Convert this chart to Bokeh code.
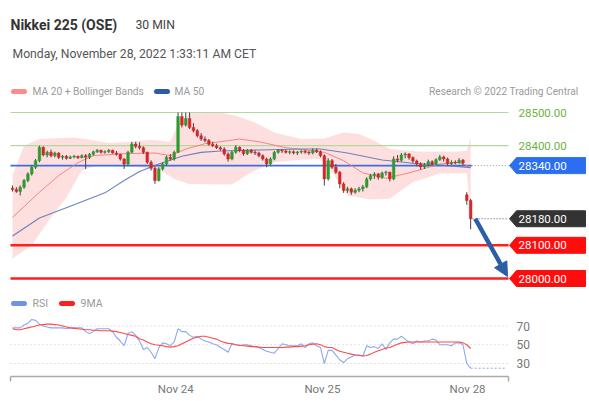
from bokeh.plotting import figure
from bokeh.models import Range1d, Label, Arrow, NormalHead
from bokeh.embed import file_html
from bokeh.resources import INLINE

# ---------------- data ----------------
opens = [28272,28268,28262,28275,28295,28315,28335,28355,28395,28372,
         28380,28370,28378,28365,28368,28362,28366,28368,28364,28370,
         28365,28374,28382,28386,28380,28382,28386,28378,28374,28360,
         28345,28380,28405,28398,28394,28380,28350,28332,28295,28330,
         28345,28365,28360,28380,28488,28462,28482,28455,28445,28430,
         28420,28416,28404,28400,28394,28390,28375,28360,28380,28395,
         28386,28376,28386,28380,28378,28370,28360,28345,28360,28380,
         28386,28384,28380,28382,28378,28381,28383,28380,28378,28386,
         28382,28370,28300,28355,28335,28320,28285,28265,28270,28260,
         28266,28270,28276,28300,28310,28315,28305,28318,28320,28300,
         28360,28356,28372,28375,28364,28354,28345,28336,28342,28352,
         28345,28358,28366,28360,28346,28350,28348,28356,28252,28235]
highs = [28280,28275,28280,28300,28320,28340,28360,28400,28398,28385,
         28388,28382,28380,28372,28372,28370,28372,28370,28374,28375,
         28378,28385,28390,28388,28386,28390,28388,28384,28376,28362,
         28385,28412,28412,28410,28398,28382,28356,28338,28335,28350,
         28370,28375,28385,28500,28500,28500,28500,28468,28450,28438,
         28428,28420,28412,28406,28398,28395,28380,28385,28402,28398,
         28390,28390,28390,28386,28382,28374,28364,28365,28384,28390,
         28390,28388,28386,28386,28384,28386,28388,28384,28392,28392,
         28386,28374,28362,28360,28345,28324,28290,28276,28274,28272,
         28276,28282,28305,28315,28320,28318,28322,28325,28322,28368,
         28372,28378,28380,28378,28368,28358,28350,28348,28358,28356,
         28362,28372,28370,28364,28356,28356,28362,28360,28260,28240]
lows = [28262,28258,28250,28270,28290,28310,28330,28350,28368,28365,
        28365,28365,28360,28358,28358,28360,28362,28360,28362,28330,
        28360,28370,28378,28376,28376,28378,28376,28370,28355,28330,
        28340,28378,28392,28388,28375,28345,28325,28285,28292,28325,
        28340,28355,28355,28378,28455,28458,28450,28440,28425,28415,
        28410,28400,28396,28390,28385,28370,28352,28356,28376,28380,
        28370,28372,28376,28372,28365,28355,28335,28340,28356,28376,
        28378,28376,28374,28374,28372,28376,28376,28372,28374,28378,
        28365,28280,28295,28330,28315,28272,28258,28258,28252,28255,
        28260,28262,28272,28295,28300,28298,28300,28310,28292,28296,
        28350,28352,28362,28358,28348,28338,28328,28330,28338,28340,
        28342,28354,28352,28340,28342,28344,28346,28342,28222,28148]
closes = [28268,28262,28275,28295,28315,28335,28355,28395,28372,28380,
          28370,28378,28365,28368,28362,28366,28368,28364,28370,28365,
          28374,28382,28386,28380,28382,28386,28378,28374,28360,28345,
          28380,28405,28398,28394,28380,28350,28332,28295,28330,28345,
          28365,28360,28380,28488,28462,28482,28455,28445,28430,28420,
          28416,28404,28400,28394,28390,28375,28360,28380,28395,28386,
          28376,28386,28380,28378,28370,28360,28345,28360,28380,28386,
          28384,28380,28382,28378,28381,28383,28380,28378,28386,28382,
          28370,28300,28355,28335,28320,28285,28265,28270,28260,28266,
          28270,28276,28300,28310,28315,28305,28318,28320,28300,28360,
          28356,28372,28375,28364,28354,28345,28336,28342,28352,28345,
          28358,28366,28360,28346,28350,28348,28356,28348,28235,28180]

ma50_x = [0, 7, 16, 24, 29, 33, 38, 44, 49, 54, 64, 75, 80, 87, 96, 104, 111, 119]
ma50_v = [28128, 28182, 28222, 28258, 28295, 28322, 28345, 28368, 28380, 28384,
          28387, 28390, 28390, 28378, 28357, 28347, 28342, 28334]
ma20_x = [0, 7, 12, 17, 21, 29, 37, 41, 45, 50, 54, 59, 64, 71, 81, 86, 91, 97, 103, 111, 116, 119]
ma20_v = [28184, 28260, 28310, 28349, 28370, 28376, 28378, 28370, 28390, 28406, 28412,
          28420, 28412, 28394, 28380, 28355, 28318, 28302, 28318, 28345, 28350, 28335]
bb_up_x = [0, 3, 7, 16, 20, 25, 31, 36, 41, 43, 46, 54, 58, 63, 68, 75, 81, 86, 90, 94,
           98, 106, 115, 118, 119]
bb_up_v = [28310, 28400, 28420, 28425, 28418, 28408, 28412, 28418, 28412, 28465, 28498,
           28500, 28490, 28470, 28440, 28420, 28422, 28440, 28435, 28415, 28390, 28382,
           28382, 28385, 28425]
bb_lo_x = [0, 5, 10, 14, 18, 22, 33, 38, 42, 46, 57, 62, 68, 75, 80, 83, 87, 93, 98, 104,
           111, 118, 119]
bb_lo_v = [28060, 28100, 28184, 28244, 28325, 28340, 28335, 28330, 28300, 28285, 28283,
           28320, 28350, 28358, 28360, 28320, 28250, 28238, 28240, 28290, 28316, 28318, 28195]

rsi = [68,68,68,71,73,77,76,72,70,69,
       68,68,68,68,67,68,68,68,68,64,
       62,64,67,67,67,67,64,58,54,49,
       62,64,60,54,45,47,42,35,47,52,
       51,49,53,67,64,64,60,58,59,56,
       54,53,51,50,47,45,42,51,50,49,
       50,50,49,48,47,45,43,42,41,46,
       51,50,49,49,49,51,47,51,52,49,
       47,30,44,44,39,34,31,35,37,39,
       39,38,49,47,48,46,51,45,52,56,
       56,59,56,53,51,54,53,54,54,56,
       55,50,50,50,49,52,52,50,30,25]
rsi_ma = [67,66,66,67,68,69,70,71,71.5,72,
          72,71.5,71,70,69,68,67.5,67,66.5,66,
          66,65.5,65.5,65,65,65,64.5,64,63,62,
          61,60,59,56.5,55,53,51,50,49.5,49,
          48,47.5,48,49,51,53,55,57,58,59,
          59,58,57,56,54,52.5,51.5,51,50,49.5,
          49,48.5,48,48,47.5,47,47,47,47,47,
          47,47.5,47.5,48,48,48.5,49,50,50.5,51,
          50,48,47,47,45,43,42,41,40,39,
          38.5,38,38.5,40,42,43.5,45,46.5,47,49,
          50.5,52,52.5,53,53,53,53,53,53,53,
          53,53,53,53,53,53,53,52,50,46]
rsi_levels = [70, 50, 30]

resist_levels = [28500, 28400]
pivot_level = 28340
last_price = 28180
support_levels = [28100, 28000]
target_level = 28000

date_tick_x = [42.4, 80.5, 118.2]
date_tick_labels = ["Nov 24", "Nov 25", "Nov 28"]

# ---------------- geometry ----------------
W, H = 589, 400
SX = 3.85                  # px per candle
X0 = -12 / SX
PY = 0.332                 # px per price point
YTOP = 28500 + 112 / PY
RY = 0.9375                # px per RSI unit
RTOP = 50 + 344.25 / RY


def xd(px):
    return X0 + px / SX


def yd(py):
    return YTOP - py / PY


def ryd(py):
    return RTOP - py / RY


p = figure(width=W, height=H, x_range=Range1d(X0, X0 + W / SX),
           y_range=Range1d(YTOP - H / PY, YTOP),
           output_backend="svg", toolbar_location=None,
           x_axis_location=None, y_axis_location=None,
           min_border=0, outline_line_color=None)
p.extra_y_ranges = {"rsi": Range1d(RTOP - H / RY, RTOP)}
p.grid.visible = False
p.background_fill_color = "white"
p.border_fill_color = "white"

FONT = "Roboto"


def lab(text, x, y, size, color, align="left", bold=False, rng="default"):
    p.add_layout(Label(x=x, y=y, text=text, text_font=FONT,
                       text_font_size=f"{size}px", text_color=color,
                       text_align=align, text_baseline="middle",
                       text_font_style="bold" if bold else "normal",
                       y_range_name=rng))


# ---------------- header ----------------
lab("Nikkei 225 (OSE)", xd(10), yd(24), 14, "#333333", bold=True)
lab("30 MIN", xd(135), yd(24), 12.2, "#444444")
lab("Monday, November 28, 2022 1:33:11 AM CET", xd(12), yd(53), 12.2, "#555555")

# legend row
p.segment(x0=[xd(13)], y0=[yd(91)], x1=[xd(24)], y1=[yd(91)], line_color="#ff8a8a",
          line_width=5, line_cap="round")
lab("MA 20 + Bollinger Bands", xd(32), yd(91), 10.2, "#9a9a9a")
p.segment(x0=[xd(156)], y0=[yd(91)], x1=[xd(167)], y1=[yd(91)], line_color="#2f5aa8",
          line_width=5, line_cap="round")
lab("MA 50", xd(174), yd(91), 10.2, "#9a9a9a")
lab("Research \u00a9 2022 Trading Central", xd(578), yd(91), 10.2, "#9a9a9a", align="right")

# ---------------- price panel ----------------
n = len(closes)
idx = list(range(n))

# bollinger band
p.patch(bb_up_x + bb_lo_x[::-1], bb_up_v + bb_lo_v[::-1],
        fill_color="#fdd9d9", fill_alpha=0.85, line_color=None)

# levels
p.segment(x0=[xd(10)] * 2, y0=resist_levels, x1=[xd(508)] * 2, y1=resist_levels,
          line_color="#b2d99c", line_width=1.2)
p.segment(x0=[xd(10)], y0=[pivot_level], x1=[n - 1 + 0.3], y1=[pivot_level],
          line_color="#3b6fe0", line_width=1.8)
p.segment(x0=[n - 1 + 0.3], y0=[pivot_level], x1=[xd(508)], y1=[pivot_level],
          line_color="#999999", line_width=1, line_dash="1 2")
p.segment(x0=[n - 1 + 0.5], y0=[last_price], x1=[xd(508)], y1=[last_price],
          line_color="#555555", line_width=1, line_dash="1 2")
p.segment(x0=[xd(10)] * 2, y0=support_levels, x1=[xd(508)] * 2, y1=support_levels,
          line_color="#ff1f1f", line_width=2.5)

# moving averages
p.line(ma20_x, ma20_v, line_color="#f47b7b", line_width=1, line_alpha=0.9)
p.line(ma50_x, ma50_v, line_color="#5a78b8", line_width=1.1, line_alpha=0.9)

# candles
up_c, dn_c = "#2f9a2f", "#d32626"
cols = [up_c if c >= o else dn_c for o, c in zip(opens, closes)]
tops = [max(o, c) for o, c in zip(opens, closes)]
bots = [min(o, c) for o, c in zip(opens, closes)]
p.segment(x0=idx, y0=lows, x1=idx, y1=highs, line_color="#444444", line_width=1)
p.vbar(x=idx, width=0.68, top=tops, bottom=bots, fill_color=cols, line_color=cols,
       line_width=0.5)

# target arrow
ac = "#2c5ea8"
p.add_layout(Arrow(end=NormalHead(size=14, fill_color=ac, line_color=ac),
                   x_start=n - 1 + 1.2, y_start=last_price,
                   x_end=xd(507), y_end=target_level + 6,
                   line_color=ac, line_width=4.5))

# right-side price tags
h = 8 / PY
tags = [(pivot_level, "#2b6ff0"), (last_price, "#333333"),
        (support_levels[0], "#ff0d0d"), (support_levels[1], "#ff0d0d")]
xs, ys, fc = [], [], []
for lv, col in tags:
    xs.append([xd(509), xd(516), xd(585), xd(585), xd(516)])
    ys.append([lv, lv + h, lv + h, lv - h, lv - h])
    fc.append(col)
p.patches(xs, ys, fill_color=fc, line_color=fc)
for lv in resist_levels:
    lab(f"{lv:.2f}", xd(518), lv, 11.5, "#6cb33e")
for lv, col in tags:
    lab(f"{lv:.2f}", xd(518), lv, 11.5, "white")

# ---------------- RSI panel ----------------
p.segment(x0=[xd(13)], y0=[ryd(303)], x1=[xd(24)], y1=[ryd(303)], line_color="#6f92e8",
          line_width=5, line_cap="round", y_range_name="rsi")
lab("RSI", xd(32), ryd(303), 10.5, "#9a9a9a", rng="rsi")
p.segment(x0=[xd(61)], y0=[ryd(303)], x1=[xd(72)], y1=[ryd(303)], line_color="#ff1f1f",
          line_width=5, line_cap="round", y_range_name="rsi")
lab("9MA", xd(80), ryd(303), 10.5, "#9a9a9a", rng="rsi")

p.segment(x0=[xd(10)] * 3, y0=rsi_levels, x1=[xd(508)] * 3, y1=rsi_levels,
          line_color="#c4c4c4", line_width=1, line_dash="1 3", y_range_name="rsi")
for lv in rsi_levels:
    lab(str(lv), xd(516), lv, 12, "#777777", rng="rsi")

p.line(idx, rsi, line_color="#8aa9ee", line_width=1.1, y_range_name="rsi")
p.segment(x0=[n - 1], y0=[rsi[-1]], x1=[xd(506)], y1=[rsi[-1]], line_color="#8aa9ee",
          line_width=1, line_dash="2 2", y_range_name="rsi")
p.line(idx, rsi_ma, line_color="#ff4a4a", line_width=1.1, y_range_name="rsi")

# time axis
p.segment(x0=[xd(10)], y0=[ryd(376)], x1=[xd(508)], y1=[ryd(376)], line_color="#aaaaaa",
          line_width=1.5, y_range_name="rsi")
p.segment(x0=[xd(10), xd(508)], y0=[ryd(376)] * 2, x1=[xd(10), xd(508)],
          y1=[ryd(381)] * 2, line_color="#aaaaaa", line_width=1.5, y_range_name="rsi")
for tx, tl in zip(date_tick_x, date_tick_labels):
    lab(tl, tx, ryd(388), 11.5, "#777777", align="center", rng="rsi")

open("out.html", "w").write(file_html(p, INLINE))
